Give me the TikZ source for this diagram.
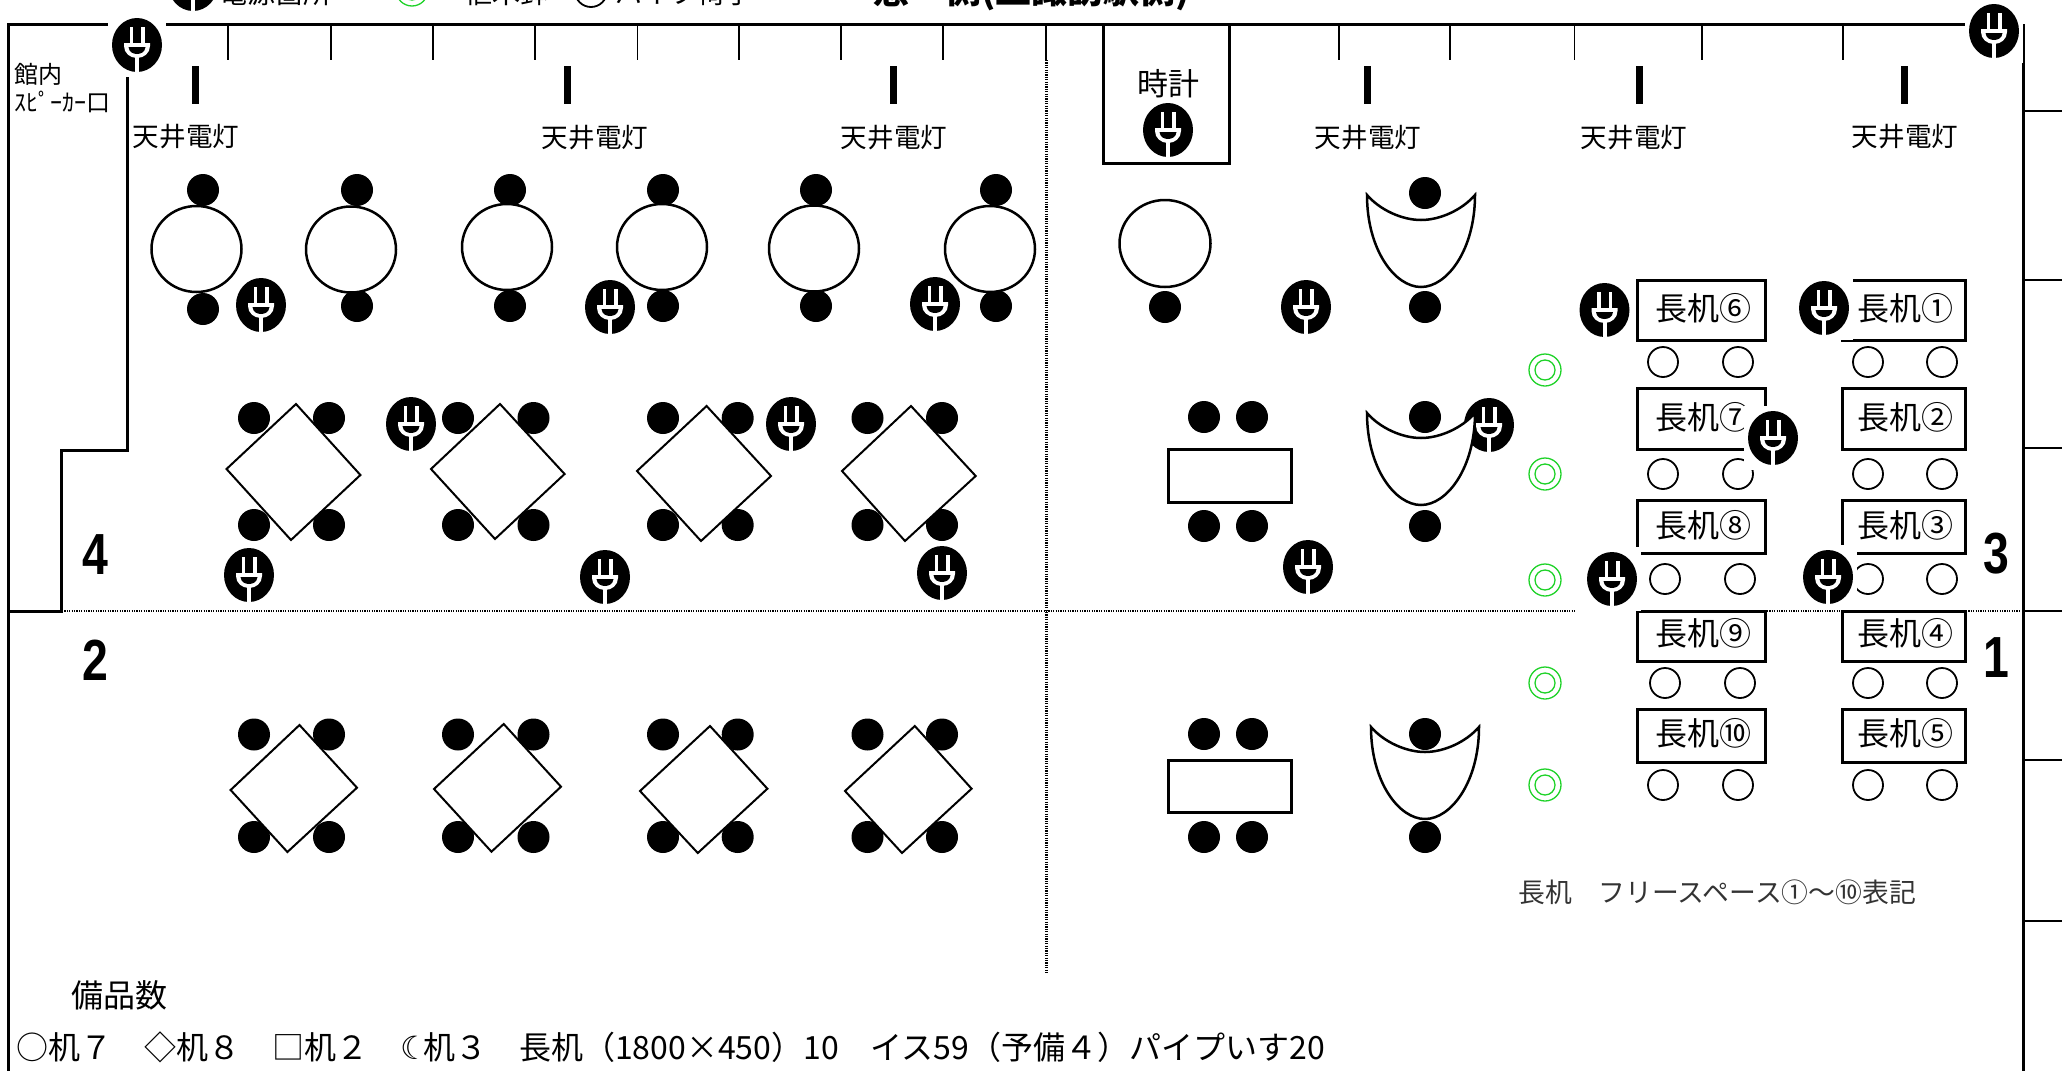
\documentclass[tikz,border=0pt]{standalone}
\usepackage{fontspec}
\setmainfont{Noto Sans CJK JP}
\newfontfamily\numfont[FakeStretch=0.8]{Liberation Sans}
\newfontfamily\symfont{DejaVu Sans}
\definecolor{potgreen}{RGB}{30,210,40}
\newcommand{\fpx}[1]{\fontsize{#1}{#1}\selectfont}

\tikzset{
    roundtable/.style={draw=black, line width=1.25pt, fill=white},
    diamondtable/.style={draw=black, line width=1pt, fill=white},
    recttable/.style={draw=black, line width=1.5pt, fill=white},
    curvetable/.style={draw=black, line width=1.25pt, fill=white},
    longdesk/.style={draw=black, line width=1.5pt, fill=white},
    wallline/.style={draw=black, line width=1.5pt},
    tickline/.style={draw=black, line width=0.9pt},
    dotline/.style={draw=black, line width=1.2pt, dash pattern=on 0.6pt off 0.6pt},
    chairfull/.style={fill=black},
    chairopen/.style={draw=black, line width=0.9pt, fill=white},
    lamptext/.style={inner sep=0pt, font=\fpx{13.3}},
    desktext/.style={inner sep=0pt, font=\fpx{16}},
    roomnum/.style={inner sep=0pt, font=\numfont\bfseries\fpx{29}},
    plugicon/.pic={
        \fill[white] (-29,-32) rectangle (29,32);
        \fill[black] (0,0) ellipse [x radius=25, y radius=27];
        \fill[white] (-7.5,-18) rectangle (-4,0);
        \fill[white] (4,-18) rectangle (7.5,0);
        \fill[white] (-13,-2) -- (13,-2) -- (13,1) .. controls (13,8) and (7,13) .. (0,13) .. controls (-7,13) and (-13,8) .. (-13,1) -- cycle;
        \fill[black] (-8.5,2) -- (8.5,2) .. controls (8,7) and (4,9) .. (0,9) .. controls (-4,9) and (-8,7) .. (-8.5,2) -- cycle;
        \fill[white] (-2,12) rectangle (2,27);
    }
}

\begin{document}
\begin{tikzpicture}[x=0.5pt,y=-0.5pt]
    \useasboundingbox (0,0) rectangle (2062,1071);
    \clip (0,0) rectangle (2062,1071);

    % Outer walls
    \draw[wallline] (8,1071) -- (8,24) -- (1996,24);
    \draw[wallline] (2023,24) -- (2023,1071);
    \draw[wallline] (127,24) -- (127,450) -- (61.5,450) -- (61.5,611) -- (8,611);

    % Wall ticks along the window side
    \foreach \x in {228,331,433,535,637.5,739,841,943,1046,1339,1450,1574.5,1702,1843} {
        \draw[tickline] (\x,24) -- (\x,60);
    }
    \foreach \y in {111,280,448,611,760,921} {
        \draw[tickline] (2023,\y) -- (2062,\y);
    }

    % Clock box
    \draw[wallline] (1103,24) -- (1103,163) -- (1229,163) -- (1229,24);
    \node[inner sep=0pt, font=\fpx{15.5}] (clock) at (1168,84) {時計};

    % Room dividers
    \draw[dotline, line width=1.5pt] (1046,60) -- (1046,973);
    \draw[dotline] (62,611) -- (1575,611);
    \draw[dotline] (1767,611) -- (1840,611);
    \draw[dotline] (1966,611) -- (2021,611);

    % Ceiling lamps
    \foreach \i/\x/\lx/\ly in {1/195/186/137,2/567/595/138,3/893/894/138,4/1367/1368/138,5/1639/1634/138,6/1904/1905/137} {
        \draw[black, line width=3.5pt] (\x,66) -- (\x,104);
        \node[lamptext] (lamp\i) at (\lx,\ly) {天井電灯};
    }

    % Speaker label
    \node[inner sep=0pt, font=\fpx{12}] (hall) at (38,74) {館内};
    \node[inner sep=0pt, font=\fpx{12}, anchor=west] (speaker) at (14,102) {ｽﾋﾟｰｶｰ口};

    % Long desks
    \foreach \n/\xl/\xr/\yt/\yb/\lx/\ly in {①/1842/1965/280/340/1905/308,②/1842/1965/388/449/1905/417,③/1842/1965/500/553/1905/525,
                                            ④/1842/1965/611/661/1905/633,⑤/1842/1965/709/762/1905/733,
                                            ⑥/1637/1765/280/340/1703.5/308,⑦/1637/1765/388/449/1703.5/417,⑧/1637/1765/500/553/1703.5/525,
                                            ⑨/1637/1765/611/661/1703.5/633,⑩/1637/1765/709/762/1703.5/733} {
        \draw[longdesk] (\xl,\yt) rectangle (\xr,\yb);
        \node[desktext] at (\lx,\ly) {長机\n};
    }

    % Pipe chairs under the long desks
    \foreach \y/\xa/\xb in {362/1663/1738,474/1663/1738,579/1665/1740,683/1665/1740,785/1663/1738} {
        \foreach \x in {\xa,\xb,1868,1942} {
            \draw[chairopen] (\x,\y) circle (15);
        }
    }

    % Plant pots
    \foreach \x/\y in {1545/370,1545/474,1545/580,1545/683,1545/785,412/-10} {
        \draw[potgreen, line width=0.65pt] (\x,\y) circle (16);
        \draw[potgreen, line width=0.65pt] (\x,\y) circle (10);
    }

    % Power points
    \foreach \x/\y in {193/-16,137/45,261/305,610/307,935/304,1306/307,1168/130,1994/31,1604.5/310,1824/308,1773/438,1612/579,1828/577,
                       1489/425,1308/567,411/424,791/424,249/575,605/577,942/573} {
        \pic at (\x,\y) {plugicon};
    }

    % Legend along the cut top edge
    \node[inner sep=0pt, anchor=base west, font=\fpx{14}] (legplug) at (219,3) {電源箇所};
    \node[inner sep=0pt, anchor=base west, font=\fpx{14}] (legpot) at (464,3) {植木鉢};
    \draw[chairopen] (591,-9) circle (16);
    \node[inner sep=0pt, anchor=base west, font=\fpx{13.7}] (legchair) at (615,3) {パイプ椅子};
    \node[inner sep=0pt, anchor=base west, font=\bfseries\fpx{18}] (legwindow) at (873,3) {窓　側(上諏訪駅側)};

    % Round tables with chairs
    \foreach \x/\y/\cx/\cb in {196.5/249/203/309,351/249.5/357/306,507/247/510/306,662/247/663/306,814/248.5/816/306,990/249/996/306} {
        \fill[chairfull] (\cx,190) circle (16);
        \fill[chairfull] (\cx,\cb) circle (16);
        \draw[roundtable] (\x,\y) ellipse [x radius=45, y radius=43];
    }
    \draw[roundtable] (1165,243.5) ellipse [x radius=45.5, y radius=43.5];
    \fill[chairfull] (1165,307) circle (16);

    % Chairs of the diamond tables
    \foreach \xa/\xb in {254/329,458/533.5,663/737.7,867.5/942} {
        \foreach \x in {\xa,\xb} {
            \fill[chairfull] (\x,418) circle (16);
            \fill[chairfull] (\x,525) circle (16);
            \fill[chairfull] (\x,734.5) circle (16);
            \fill[chairfull] (\x,837) circle (16);
        }
    }

    % Diamond tables, upper row
    \draw[diamondtable] (296,404) -- (360.4,475) -- (291,540) -- (226.5,469) -- cycle;
    \draw[diamondtable] (500,404) -- (564.6,474) -- (495,539) -- (431,469) -- cycle;
    \draw[diamondtable] (706.6,406) -- (771,476) -- (701,541) -- (637,471) -- cycle;
    \draw[diamondtable] (911,406) -- (975.7,476) -- (905,541) -- (842,471) -- cycle;

    % Diamond tables, lower row
    \draw[diamondtable] (299.5,725) -- (357,787.7) -- (287.4,852) -- (230.6,790) -- cycle;
    \draw[diamondtable] (503.7,724) -- (561,786.7) -- (491.5,851.7) -- (434,789) -- cycle;
    \draw[diamondtable] (710,726) -- (767.4,788.7) -- (697.8,853) -- (640,791) -- cycle;
    \draw[diamondtable] (914.8,726) -- (971.6,788.7) -- (902,853) -- (845,791) -- cycle;

    % Rectangular tables
    \foreach \ya/\yb/\yc/\yd in {417/526/449/502,734/837/760/812} {
        \foreach \x in {1204,1252} {
            \fill[chairfull] (\x,\ya) circle (16);
            \fill[chairfull] (\x,\yb) circle (16);
        }
        \draw[recttable] (1168,\yc) rectangle (1291,\yd);
    }

    % Curved tables
    \foreach \x/\yc/\yt/\yl/\yb in {1421/195/193/220/307,1421/413/417/438/526,1425/727/734/752/837} {
        \fill[chairfull] (1425,\yt) circle (16);
        \fill[chairfull] (1425,\yb) circle (16);
        \pgfmathsetmacro{\ybot}{\yc+92}
        \pgfmathsetmacro{\ymid}{\yc+55}
        \pgfmathsetmacro{\ycur}{\yc+15}
        \draw[curvetable] (\x-54,\yc) .. controls (\x-54,\ymid) and (\x-26,\ybot) .. (\x,\ybot) .. controls (\x+26,\ybot) and (\x+54,\ymid) .. (\x+54,\yc)
            .. controls (\x+41,\ycur) and (\x+19,\yl) .. (\x,\yl) .. controls (\x-19,\yl) and (\x-41,\ycur) .. cycle;
    }

    % Room numbers
    \node[roomnum] (room4) at (95,555) {4};
    \node[roomnum] (room2) at (95,660) {2};
    \node[roomnum] (room3) at (1996,554) {3};
    \node[roomnum] (room1) at (1996,658) {1};

    % Notes
    \node[inner sep=0pt, anchor=west, text=black!80, font=\fpx{13.4}] (freespace) at (1518,892) {長机　フリースペース①～⑩表記};
    \node[inner sep=0pt, anchor=west, font=\fpx{16}] (stocktitle) at (71,995) {備品数};
    \node[inner sep=0pt, anchor=west, font=\fpx{16}] (stocklist) at (16,1047) {○机７　◇机８　□机２　{\symfont ☾}\hspace{-3pt}机３　長机（1800×450）10　イス59（予備４）パイプいす20};
\end{tikzpicture}
\end{document}
